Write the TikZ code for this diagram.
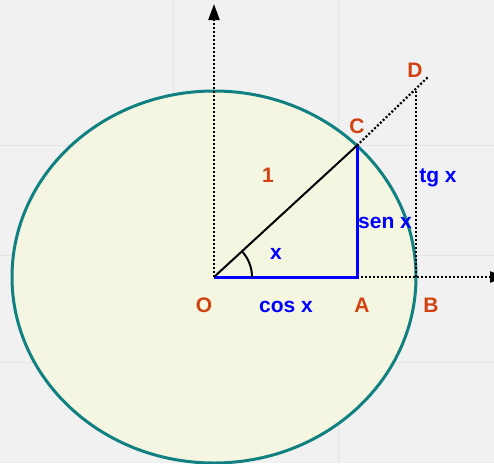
\documentclass[tikz,border=0pt]{standalone}
\usepackage{fontspec}
\setmainfont{Liberation Sans}
\usetikzlibrary{arrows.meta,calc}
\definecolor{bgc}{RGB}{241,241,241}
\definecolor{gridc}{RGB}{228,228,228}
\definecolor{fillc}{RGB}{245,246,226}
\definecolor{tealc}{RGB}{16,128,128}
\definecolor{labred}{RGB}{210,66,16}
\definecolor{labblue}{RGB}{0,0,255}
\tikzset{
  axisline/.style={line width=2.2pt, dash pattern=on 2pt off 2pt},
  blueline/.style={labblue, line width=3pt},
  redlab/.style={labred, font=\fontsize{21}{25}\selectfont\bfseries, inner sep=0pt},
  bluelab/.style={labblue, font=\fontsize{21}{25}\selectfont\bfseries, inner sep=0pt},
}
\begin{document}
\begin{tikzpicture}[x=1pt,y=-1pt]
\useasboundingbox (0,0) rectangle (494,463);
\clip (0,0) rectangle (494,463);
\fill[bgc] (0,0) rectangle (494,463);
% faint background grid
\draw[gridc, line width=1pt] (173,0) -- (173,463) (338,0) -- (338,463)
  (0,145) -- (494,145) (0,255) -- (494,255) (0,362) -- (494,362);
% points
\coordinate (O) at (214,277);
\coordinate (A) at (357,277);
\coordinate (B) at (416,277);
\coordinate (C) at (357,145.5);
\coordinate (D) at (416,90.5);
\coordinate (Dend) at (428,77);
\coordinate (ytop) at (214,4);
\coordinate (xend) at (506,277);
% circle
\draw[tealc, fill=fillc, line width=3pt] (O) ellipse [x radius=202, y radius=186];
% axes
\draw[axisline, -{Triangle[length=16pt,width=11pt]}] (O) -- (ytop);
\draw[axisline, -{Triangle[length=16pt,width=11pt]}] (A) -- (xend);
\draw[axisline] (C) -- (Dend);
\draw[axisline] (B) -- (D);
% triangle
\draw[blueline] (O) -- (A) -- (C);
\draw[black, line width=2pt] (O) -- (C);
\draw[black, line width=2pt] ($(O)+(38,0)$) arc[start angle=0, end angle=-42.7, radius=38];
% labels
\node[redlab] (lO) at (204,305) {O};
\node[redlab] (lA) at (362,305) {A};
\node[redlab] (lB) at (431,305) {B};
\node[redlab] (lC) at (357,126) {C};
\node[redlab] (lD) at (415,70) {D};
\node[redlab] (l1) at (268,175) {1};
\node[bluelab] (lcos) at (286,307) {cos x};
\node[bluelab] (lx) at (276,254) {x};
\node[bluelab] (lsen) at (385,223) {sen x};
\node[bluelab] (ltg) at (438,178) {tg x};
\end{tikzpicture}
\end{document}
